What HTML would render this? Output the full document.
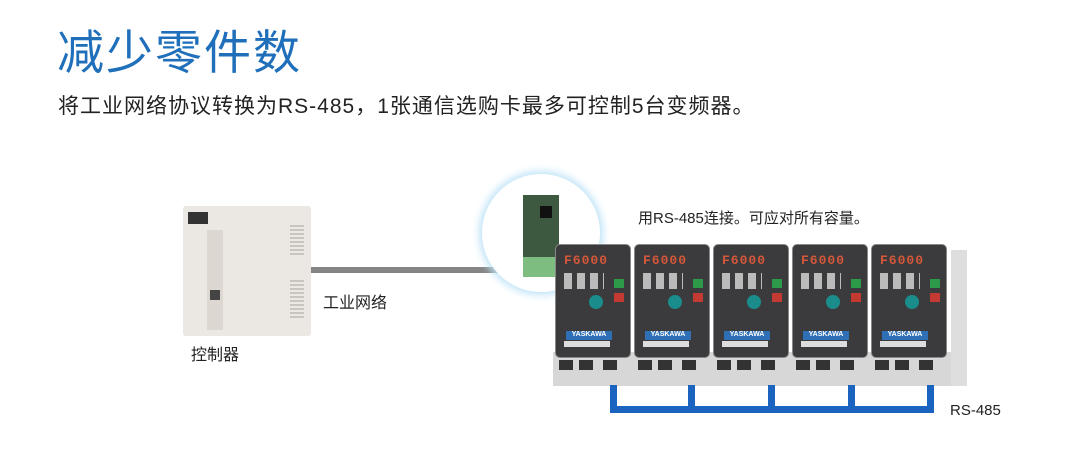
<!DOCTYPE html>
<html><head><meta charset="utf-8"><style>
body{margin:0;width:1080px;height:459px;background:#fff;position:relative;overflow:hidden;font-family:"Liberation Sans","Noto Sans CJK SC",sans-serif}
.a{position:absolute}
.drv{position:absolute;top:244px;width:82px;height:142px}
.drv .f{position:absolute;left:2px;top:0;width:74px;height:112px;background:#3b3b3d;border-radius:5px;border:1px solid #888}
.drv .t{position:absolute;left:0;top:108px;width:82px;height:34px;background:#d7d7d7}
.drv .t i{position:absolute;top:8px;width:14px;height:10px;background:#333}
.drv .led{position:absolute;left:8px;top:8px;color:#d5573a;font:bold 13px "Liberation Mono",monospace;letter-spacing:1px}
.drv .y{position:absolute;left:10px;top:86px;width:46px;height:9px;background:#2f6fb5;color:#fff;font:bold 7px "Liberation Sans";text-align:center}
.drv .w{position:absolute;left:8px;top:96px;width:46px;height:6px;background:#ddd}
.drv .g{position:absolute;left:58px;top:34px;width:10px;height:9px;background:#2d9a4a}
.drv .r{position:absolute;left:58px;top:48px;width:10px;height:9px;background:#c23a32}
.drv .k{position:absolute;left:33px;top:50px;width:14px;height:14px;border-radius:50%;background:#1b8c8c}
.drv .b{position:absolute;left:8px;top:28px;width:40px;height:16px;background:repeating-linear-gradient(90deg,#bbb 0 8px,transparent 8px 13px)}
.bus{position:absolute;background:#1a64c0}
</style></head><body>
<div class="a" style="left:57px;top:14px;font-size:47px;color:#1f6fba;letter-spacing:2px">减少零件数</div>
<div class="a" style="left:58px;top:90px;font-size:21px;color:#222;letter-spacing:1px">将工业网络协议转换为RS-485，1张通信选购卡最多可控制5台变频器。</div>

<div class="a" style="left:183px;top:206px;width:128px;height:130px;background:#ebe7e2;border-radius:3px"></div>
<div class="a" style="left:188px;top:212px;width:20px;height:12px;background:#333"></div>
<div class="a" style="left:207px;top:230px;width:16px;height:100px;background:#dcd7d1"></div>
<div class="a" style="left:210px;top:290px;width:10px;height:10px;background:#444"></div>
<div class="a" style="left:290px;top:225px;width:14px;height:30px;background:repeating-linear-gradient(#c9c4be 0 2px,#ebe7e2 2px 4px)"></div>
<div class="a" style="left:290px;top:280px;width:14px;height:40px;background:repeating-linear-gradient(#c9c4be 0 2px,#ebe7e2 2px 4px)"></div>
<div class="a" style="left:311px;top:267px;width:220px;height:6px;background:#858585"></div>
<div class="a" style="left:323px;top:289px;font-size:16px;color:#222">工业网络</div>
<div class="a" style="left:191px;top:341px;font-size:16px;color:#222">控制器</div>

<div class="a" style="left:482px;top:174px;width:118px;height:118px;border-radius:50%;background:#fff;box-shadow:0 0 8px 3px #bfe3f7"></div>
<div class="a" style="left:523px;top:195px;width:36px;height:62px;background:#3d5a40"></div>
<div class="a" style="left:540px;top:206px;width:12px;height:12px;background:#111"></div>
<div class="a" style="left:523px;top:257px;width:36px;height:20px;background:#7dbd80"></div>

<div class="a" style="left:638px;top:207px;font-size:15px;color:#222">用RS-485连接。可应对所有容量。</div>

<div class="drv" style="left:553px"><div class="t"><i style="left:6px"></i><i style="left:26px"></i><i style="left:50px"></i></div><div class="f"><div class="led">F6000</div><div class="b"></div><div class="g"></div><div class="r"></div><div class="k"></div><div class="y">YASKAWA</div><div class="w"></div></div></div>
<div class="drv" style="left:632px"><div class="t"><i style="left:6px"></i><i style="left:26px"></i><i style="left:50px"></i></div><div class="f"><div class="led">F6000</div><div class="b"></div><div class="g"></div><div class="r"></div><div class="k"></div><div class="y">YASKAWA</div><div class="w"></div></div></div>
<div class="drv" style="left:711px"><div class="t"><i style="left:6px"></i><i style="left:26px"></i><i style="left:50px"></i></div><div class="f"><div class="led">F6000</div><div class="b"></div><div class="g"></div><div class="r"></div><div class="k"></div><div class="y">YASKAWA</div><div class="w"></div></div></div>
<div class="drv" style="left:790px"><div class="t"><i style="left:6px"></i><i style="left:26px"></i><i style="left:50px"></i></div><div class="f"><div class="led">F6000</div><div class="b"></div><div class="g"></div><div class="r"></div><div class="k"></div><div class="y">YASKAWA</div><div class="w"></div></div></div>
<div class="drv" style="left:869px"><div class="t"><i style="left:6px"></i><i style="left:26px"></i><i style="left:50px"></i></div><div class="f"><div class="led">F6000</div><div class="b"></div><div class="g"></div><div class="r"></div><div class="k"></div><div class="y">YASKAWA</div><div class="w"></div></div></div>
<div class="a" style="left:951px;top:250px;width:16px;height:136px;background:#dedede"></div>

<div class="bus" style="left:610px;top:385px;width:7px;height:28px"></div>
<div class="bus" style="left:688px;top:385px;width:7px;height:28px"></div>
<div class="bus" style="left:768px;top:385px;width:7px;height:28px"></div>
<div class="bus" style="left:848px;top:385px;width:7px;height:28px"></div>
<div class="bus" style="left:927px;top:385px;width:7px;height:28px"></div>
<div class="bus" style="left:610px;top:406px;width:324px;height:7px"></div>
<div class="a" style="left:950px;top:402px;font-size:15px;color:#222">RS-485</div>
</body></html>
